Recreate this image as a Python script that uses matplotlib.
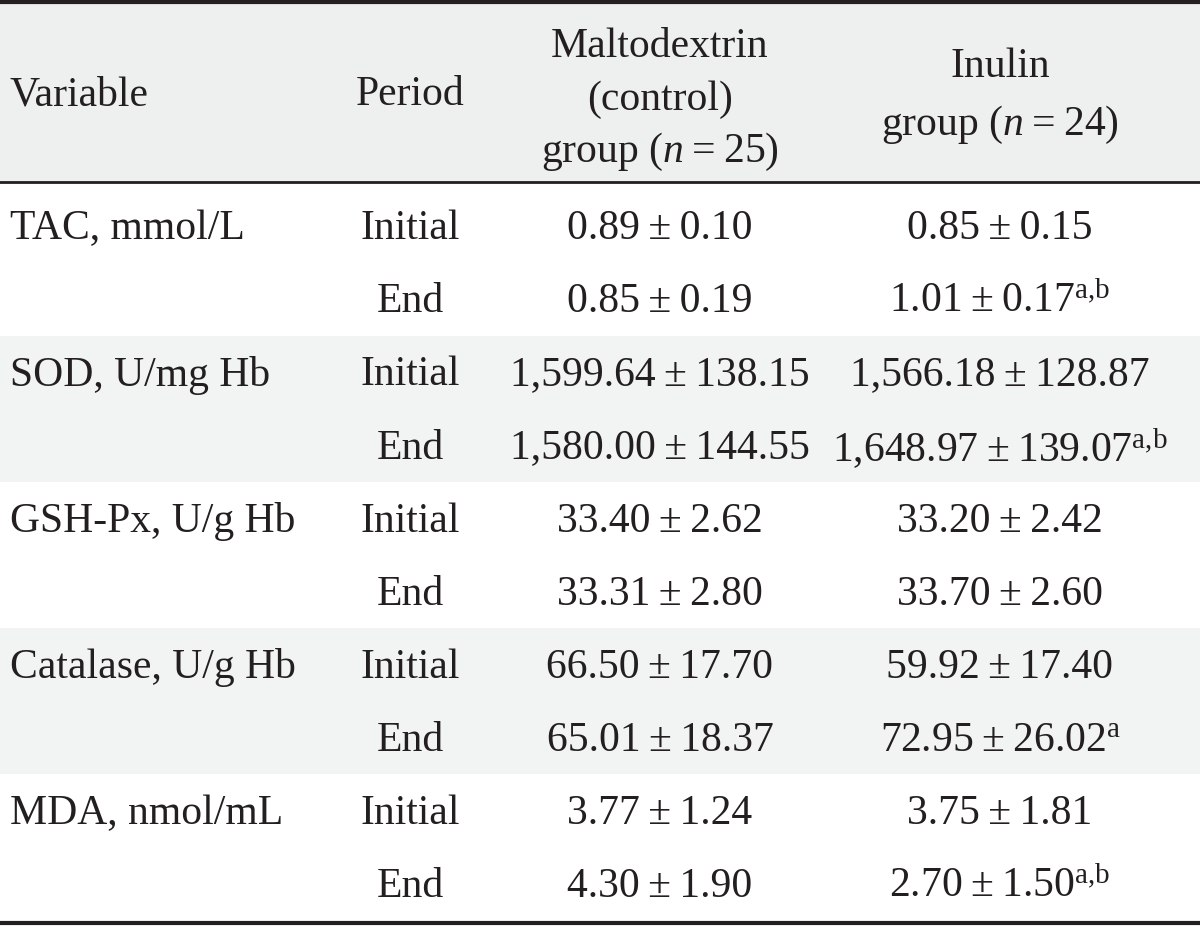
import matplotlib.pyplot as plt
from matplotlib.patches import Rectangle

plt.rcParams["font.family"] = "Liberation Serif"
plt.rcParams["mathtext.fontset"] = "custom"
plt.rcParams["mathtext.rm"] = "Liberation Serif"
plt.rcParams["mathtext.it"] = "Liberation Serif:italic"

variables = ["TAC, mmol/L", "SOD, U/mg Hb", "GSH-Px, U/g Hb", "Catalase, U/g Hb", "MDA, nmol/mL"]
periods = ["Initial", "End"]
malto = [["0.89", "0.10"], ["0.85", "0.19"],
         ["1,599.64", "138.15"], ["1,580.00", "144.55"],
         ["33.40", "2.62"], ["33.31", "2.80"],
         ["66.50", "17.70"], ["65.01", "18.37"],
         ["3.77", "1.24"], ["4.30", "1.90"]]
inulin = [["0.85", "0.15"], ["1.01", "0.17"],
          ["1,566.18", "128.87"], ["1,648.97", "139.07"],
          ["33.20", "2.42"], ["33.70", "2.60"],
          ["59.92", "17.40"], ["72.95", "26.02"],
          ["3.75", "1.81"], ["2.70", "1.50"]]
inulin_sup = ["", "a,b", "", "a,b", "", "", "", "a", "", "a,b"]

ink = "#231f20"
fs = 30

fig = plt.figure(figsize=(12, 9.27), dpi=100)
ax = fig.add_axes([0, 0, 1, 1])
ax.set_xlim(0, 1200)
ax.set_ylim(927, 0)
ax.axis("off")

# header
ax.add_patch(Rectangle((0, 2), 1200, 180, color="#eeefef", lw=0))
ax.text(10, 95, "Variable", fontsize=fs, color=ink, va="center", ha="left")
ax.text(410, 95, "Period", fontsize=fs, color=ink, va="center", ha="center")
ax.text(660, 47, "Maltodextrin", fontsize=fs, color=ink, va="center", ha="center")
ax.text(660, 100, "(control)", fontsize=fs, color=ink, va="center", ha="center")
ax.text(660, 152, "group ($n$\u2009=\u200925)", fontsize=fs, color=ink, va="center", ha="center")
ax.text(1000, 67, "Inulin", fontsize=fs, color=ink, va="center", ha="center")
ax.text(1000, 125, "group ($n$\u2009=\u200924)", fontsize=fs, color=ink, va="center", ha="center")

y0, step = 226, 73.1
for i in range(len(malto)):
    y = y0 + i * step
    ty = y + 3
    block = i // 2
    if block % 2 == 1 and i % 2 == 0:
        ax.add_patch(Rectangle((0, y - step / 2), 1200, 2 * step, color="#f2f3f3", lw=0, zorder=0))
    if i % 2 == 0:
        ax.text(10, ty, variables[block], fontsize=fs, color=ink, va="center", ha="left")
    ax.text(410, ty, periods[i % 2], fontsize=fs, color=ink, va="center", ha="center")
    m = malto[i]
    ax.text(660, ty, f"{m[0]}\u2009±\u2009{m[1]}", fontsize=fs, color=ink, va="center", ha="center")
    v = inulin[i]
    s = f"{v[0]}\u2009±\u2009{v[1]}"
    if inulin_sup[i]:
        s += r"$^{\mathrm{" + inulin_sup[i].replace(",", "{,}") + "}}$"
    ax.text(1000, ty, s, fontsize=fs, color=ink, va="center", ha="center")

ax.axhline(2, color=ink, lw=3)
ax.axhline(182, color=ink, lw=2)
ax.axhline(923, color=ink, lw=3)

fig.savefig("out.png", dpi=100)
